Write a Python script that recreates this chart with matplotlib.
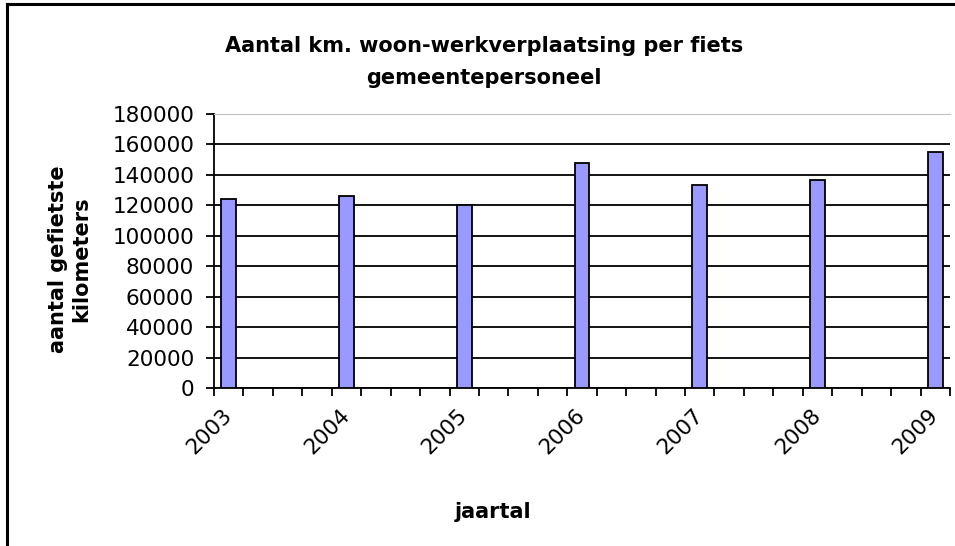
import matplotlib.pyplot as plt
import numpy as np
from matplotlib.lines import Line2D

# Data
years = [2003, 2004, 2005, 2006, 2007, 2008, 2009]
km = [124000, 126000, 120000, 148000, 133500, 136500, 155000]
year_labels = [str(y) for y in years]

plt.rcParams['font.family'] = ['DejaVu Sans']

fig = plt.figure(figsize=(9.55, 5.46), dpi=100)
ax = fig.add_axes([214 / 955, 1 - 388 / 546, 736 / 955, 274 / 546])

# bars sit in the middle of the first quarter of each year (Excel date axis)
x = np.array(years) + 0.125
ax.bar(x, km, width=0.127, color='#9999FF', edgecolor='black', linewidth=1.3, zorder=3)

ax.set_xlim(2003, 2009.25)
ax.set_ylim(0, 180000)
ax.set_yticks(np.arange(0, 180001, 20000))

# quarter ticks, labels at the bars
ax.set_xticks(np.arange(2003, 2009.26, 0.25), minor=True)
ax.set_xticks(x)
ax.set_xticklabels(year_labels, rotation=45, ha='right', va='center',
                   rotation_mode='anchor')
ax.tick_params(axis='x', which='major', length=0, pad=17.5, labelsize=15.5)
ax.tick_params(axis='x', which='minor', length=5.8, width=1.3, direction='out')
ax.tick_params(axis='y', length=5.8, width=1.3, pad=8.5, labelsize=15.5)

ax.grid(axis='y', color='black', linewidth=1.3, zorder=1)
ax.set_axisbelow(True)
ax.get_ygridlines()[-1].set_color('#c0c0c0')
for s in ['left', 'bottom']:
    ax.spines[s].set_linewidth(1.3)
ax.spines['top'].set_color('#c0c0c0')
ax.spines['right'].set_visible(False)

ax.set_ylabel('aantal gefietste\nkilometers', fontsize=15, fontweight='bold',
              va='center', linespacing=1.2)
ax.yaxis.set_label_coords(-0.196, 0.47)

fig.text(484 / 955, 1 - 62 / 546,
         'Aantal km. woon-werkverplaatsing per fiets\ngemeentepersoneel',
         ha='center', va='center', fontsize=15, fontweight='bold', linespacing=1.75)
fig.text(493 / 955, 1 - 512 / 546, 'jaartal', ha='center', va='center',
         fontsize=15, fontweight='bold')

# chart frame (only left and top edges are visible in the crop)
fig.add_artist(Line2D([7 / 955, 7 / 955], [0, 1 - 4 / 546], color='black', linewidth=2.2))
fig.add_artist(Line2D([7 / 955, 1], [1 - 4 / 546, 1 - 4 / 546], color='black', linewidth=2.2))

fig.savefig('out.png', dpi=100)
